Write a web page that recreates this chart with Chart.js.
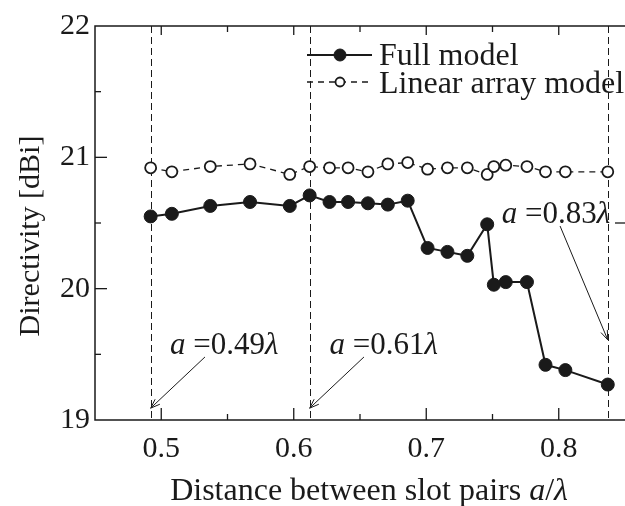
<!DOCTYPE html>
<html><head><meta charset="utf-8">
<script src="https://cdn.jsdelivr.net/npm/chart.js@4"></script>
<style>html,body{margin:0;padding:0;background:#fff}#wrap{width:625px;height:506px;position:relative}</style>
</head><body><div id="wrap"><canvas id="c"></canvas></div>
<script>
// ---- data ----
const distance    = [0.492,0.508,0.537,0.567,0.597,0.612,0.627,0.641,0.656,0.671,0.686,0.701,0.716,0.731,0.746,0.751,0.760,0.776,0.790,0.805,0.837];
const fullModel   = [20.55,20.57,20.63,20.66,20.63,20.71,20.66,20.66,20.65,20.64,20.67,20.31,20.28,20.25,20.49,20.03,20.05,20.05,19.42,19.38,19.27];
const linearModel = [20.92,20.89,20.93,20.95,20.87,20.93,20.92,20.92,20.89,20.95,20.96,20.91,20.92,20.92,20.87,20.93,20.94,20.93,20.89,20.89,20.89];
const seriesNames = ['Full model','Linear array model'];
const xTickLabels = ['0.5','0.6','0.7','0.8'];
const yTickLabels = ['19','20','21','22'];
const markerLines = [0.492, 0.612, 0.837];
const markerNames = ['0.49','0.61','0.83'];

const SERIF = "'Liberation Serif','DejaVu Serif','Times New Roman',serif";
const INK = '#1a1a1a';

// annotation layout (data coordinates)
const annLayout = [
  {tx:0.5066, ty:19.503, fx:0.533, fy:19.48, toY:19.09},
  {tx:0.6269, ty:19.503, fx:0.653, fy:19.48, toY:19.09},
  {tx:0.757,  ty:20.498, fx:0.801, fy:20.477, toY:19.61}
];

function pts(xs, ys){ return xs.map((x,i)=>({x:x,y:ys[i]})); }
function near(v, s){ return Math.abs(v - parseFloat(s)) < 1e-6; }

function drawParts(ctx, parts, x, y, size){
  parts.forEach(p=>{
    ctx.font = (p.it ? 'italic ' : '') + size + 'px ' + SERIF;
    ctx.fillText(p.t, x, y);
    x += ctx.measureText(p.t).width;
  });
  return x;
}
function partsWidth(ctx, parts, size){
  let w=0;
  parts.forEach(p=>{ ctx.font=(p.it?'italic ':'')+size+'px '+SERIF; w+=ctx.measureText(p.t).width; });
  return w;
}

const decor = {
  id:'decor',
  beforeDatasetsDraw(chart){
    const ctx=chart.ctx, xs=chart.scales.x, a=chart.chartArea;
    ctx.save();
    ctx.strokeStyle=INK; ctx.lineWidth=1; ctx.setLineDash([7,4]);
    markerLines.forEach(v=>{
      const px=Math.round(xs.getPixelForValue(v))+0.5;
      ctx.beginPath(); ctx.moveTo(px,a.top); ctx.lineTo(px,a.bottom); ctx.stroke();
    });
    ctx.restore();
  },
  afterDraw(chart){
    const ctx=chart.ctx, xs=chart.scales.x, ys=chart.scales.y, a=chart.chartArea;
    ctx.save();
    ctx.strokeStyle=INK; ctx.fillStyle=INK; ctx.lineWidth=1.5; ctx.setLineDash([]);
    // frame
    ctx.beginPath();
    ctx.moveTo(a.right+2,a.top); ctx.lineTo(a.left,a.top); ctx.lineTo(a.left,a.bottom); ctx.lineTo(a.right+2,a.bottom);
    ctx.stroke();
    // inward ticks
    ctx.lineWidth=1.3;
    xs.ticks.forEach(t=>{
      const px=xs.getPixelForValue(t.value);
      if(px<=a.left+1||px>=a.right-1) return;
      const major = xTickLabels.some(l=>near(t.value,l));
      ctx.beginPath();
      ctx.moveTo(px,a.bottom); ctx.lineTo(px,a.bottom-(major?12:6));
      ctx.moveTo(px,a.top); ctx.lineTo(px,a.top+(major?9:6));
      ctx.stroke();
    });
    ys.ticks.forEach(t=>{
      const py=ys.getPixelForValue(t.value);
      if(py<=a.top+1||py>=a.bottom-1) return;
      const major = yTickLabels.some(l=>near(t.value,l));
      ctx.beginPath(); ctx.moveTo(a.left,py); ctx.lineTo(a.left+(major?12:6),py); ctx.stroke();
      if(near(t.value,'20.5')){ ctx.beginPath(); ctx.moveTo(a.right,py); ctx.lineTo(a.right-10,py); ctx.stroke(); }
    });
    // axis titles
    ctx.textBaseline='alphabetic';
    const xt=[{t:'Distance between slot pairs '},{t:'a',it:1},{t:'/'},{t:'\u03BB',it:1}];
    const xw=partsWidth(ctx,xt,32);
    drawParts(ctx,xt,369-xw/2,500,32);
    ctx.save();
    ctx.translate(39,(a.top+a.bottom)/2+13); ctx.rotate(-Math.PI/2);
    ctx.font='30px '+SERIF; ctx.textAlign='center';
    ctx.fillText('Directivity [dBi]',0,0);
    ctx.restore();
    // annotations
    ctx.lineWidth=1;
    annLayout.forEach((L,i)=>{
      const parts=[{t:'a',it:1},{t:' =' + markerNames[i]},{t:'\u03BB',it:1}];
      drawParts(ctx,parts,xs.getPixelForValue(L.tx),ys.getPixelForValue(L.ty),31);
      const x1=xs.getPixelForValue(L.fx), y1=ys.getPixelForValue(L.fy);
      const x2=xs.getPixelForValue(markerLines[i]), y2=ys.getPixelForValue(L.toY);
      ctx.beginPath(); ctx.moveTo(x1,y1); ctx.lineTo(x2,y2); ctx.stroke();
      const ang=Math.atan2(y2-y1,x2-x1), h=10, s=0.35;
      ctx.beginPath();
      ctx.moveTo(x2-h*Math.cos(ang-s),y2-h*Math.sin(ang-s)); ctx.lineTo(x2,y2);
      ctx.lineTo(x2-h*Math.cos(ang+s),y2-h*Math.sin(ang+s)); ctx.stroke();
    });
    // legend
    const ds=chart.data.datasets;
    const rows=[55,82], base=[65,93];
    ds.forEach((d,i)=>{
      const y=rows[i];
      ctx.strokeStyle=INK; ctx.lineWidth=d.borderWidth; ctx.setLineDash(d.borderDash||[]);
      ctx.beginPath(); ctx.moveTo(307,y); ctx.lineTo(372,y); ctx.stroke();
      ctx.setLineDash([]);
      ctx.beginPath(); ctx.arc(340,y,i===0?6:4.5,0,Math.PI*2);
      ctx.fillStyle=d.pointBackgroundColor; ctx.fill();
      ctx.lineWidth=d.pointBorderWidth; ctx.strokeStyle=INK; ctx.stroke();
      ctx.fillStyle=INK; ctx.font='32px '+SERIF;
      ctx.fillText(d.label,379,base[i]);
    });
    ctx.restore();
  }
};

new Chart(document.getElementById('c'),{
  type:'line',
  data:{datasets:[
    {label:seriesNames[0], data:pts(distance,fullModel), borderColor:INK, borderWidth:2,
     pointRadius:6.5, pointBackgroundColor:INK, pointBorderColor:INK, pointBorderWidth:1, tension:0},
    {label:seriesNames[1], data:pts(distance,linearModel), borderColor:INK, borderWidth:1.3, borderDash:[6,5],
     pointRadius:5.5, pointBackgroundColor:'#fff', pointBorderColor:INK, pointBorderWidth:1.8, tension:0}
  ]},
  options:{
    responsive:true, maintainAspectRatio:false, animation:false,
    devicePixelRatio:1,
    layout:{autoPadding:false, padding:{top:26,left:0,right:0,bottom:0}},
    plugins:{legend:{display:false}, tooltip:{enabled:false}},
    scales:{
      x:{type:'linear', min:0.45, max:0.85,
         afterFit(s){ s.height=86; s.paddingLeft=0; s.paddingRight=0; },
         border:{display:false}, grid:{display:false, drawTicks:false},
         ticks:{stepSize:0.05, autoSkip:false, maxRotation:0, padding:11, color:INK,
                font:{family:SERIF,size:30},
                callback(v){ const l=xTickLabels.find(s=>near(v,s)); return l||''; }}},
      y:{type:'linear', min:19, max:22,
         afterFit(s){ s.width=95; },
         border:{display:false}, grid:{display:false, drawTicks:false},
         ticks:{stepSize:0.5, autoSkip:false, padding:5, color:INK,
                font:{family:SERIF,size:30},
                callback(v){ const l=yTickLabels.find(s=>near(v,s)); return l||''; }}}
    }
  },
  plugins:[decor]
});
</script></body></html>
